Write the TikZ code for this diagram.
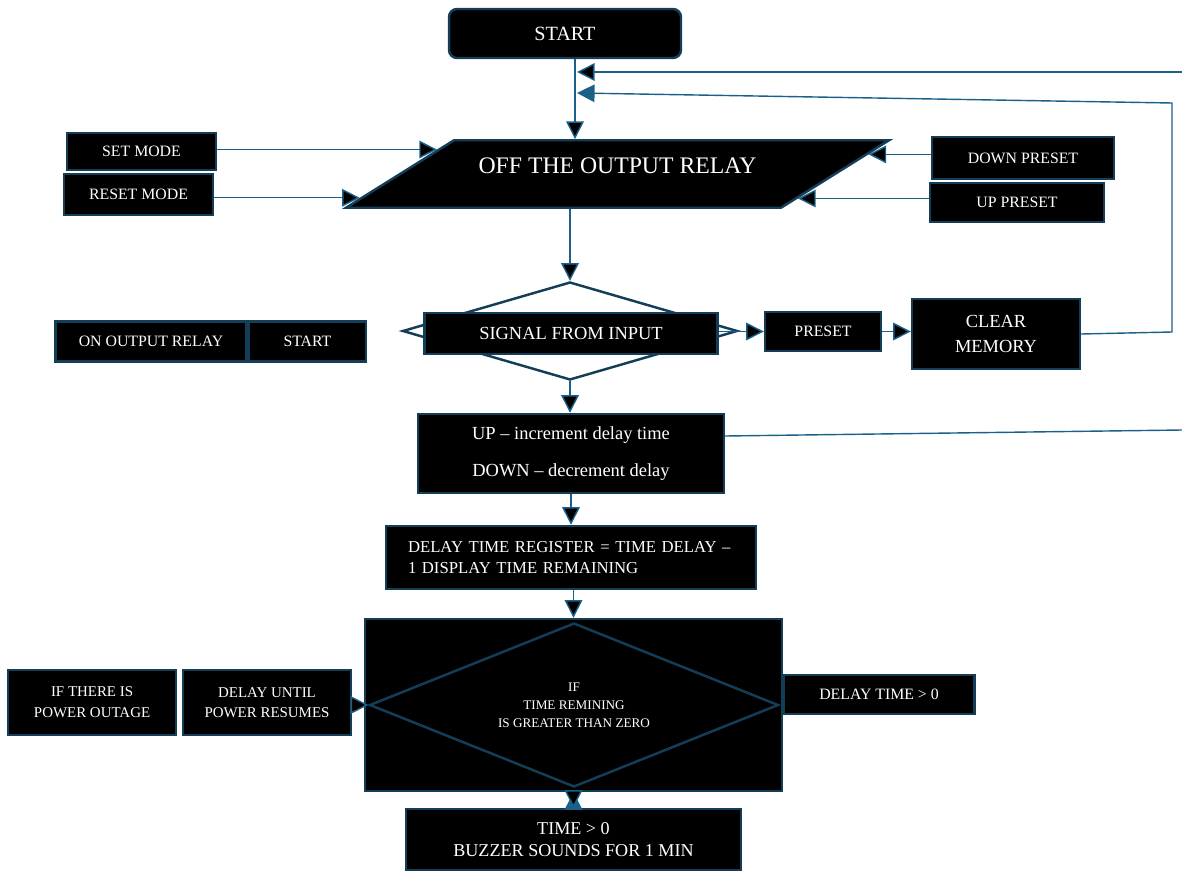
\documentclass[tikz,border=0pt]{standalone}
\usepackage{fontspec}
\setmainfont{Liberation Serif}
\usetikzlibrary{positioning, shapes.geometric, arrows.meta, calc}
\definecolor{edgeblue}{RGB}{20,62,88}
\definecolor{linkblue}{RGB}{26,96,136}
\tikzset{
box/.style={draw=edgeblue, fill=black, text=white, line width=1.4pt, inner sep=0pt, align=center}, % black blocks with a dark blue frame
flow/.style={draw=linkblue, line width=0.8pt, -{Triangle[length=10pt, width=10pt]}}, % connectors with a filled head
link/.style={draw=linkblue, line width=0.8pt}, % plain lines that run off the page
smalltext/.style={font=\fontsize{9}{11}\selectfont}, % most of the side blocks
midtext/.style={font=\fontsize{10.5}{13}\selectfont}, % main column text
}

\begin{document}
\begin{tikzpicture}[x=0.02cm, y=-0.02cm]
                \useasboundingbox (0,0) rectangle (1182,871);
                % main column
                \node[box, rounded corners=0.16cm, minimum width=4.64cm, minimum height=0.98cm, font=\fontsize{11.5}{13}\selectfont] (start) at (565,33.5) {START};
                \node[box, trapezium, trapezium left angle=32, trapezium right angle=148, trapezium stretches body, text height=9pt, text depth=9pt, inner ysep=10.2pt, minimum width=10.86cm, font=\fontsize{13.5}{16}\selectfont] (off) at (617.5,174) {OFF THE OUTPUT RELAY};
                \node[diamond, draw=edgeblue, fill=white, line width=1.4pt, inner sep=0pt, minimum width=6.7cm, minimum height=1.96cm] (sigdia) at (570,331) {};
                \node[box, midtext, minimum width=5.86cm, minimum height=0.82cm] (sig) at (571,333.5) {SIGNAL FROM INPUT};
                \node[box, minimum width=6.12cm, minimum height=1.58cm, font=\fontsize{10.5}{21}\selectfont] (updown) at (571,453.5) {UP – increment delay time\\DOWN – decrement delay};
                \node[box, minimum width=7.4cm, minimum height=1.26cm, text width=6.52cm, inner xsep=0.44cm, align=left, font=\fontsize{9.5}{12}\selectfont] (reg) at (571,557.5) {DELAY TIME REGISTER = TIME DELAY –\\1 DISPLAY TIME REMAINING};
                \node[box, minimum width=8.34cm, minimum height=3.44cm] (bigbox) at (573.5,705) {};
                \node[box, diamond, shape aspect=2.5, minimum width=8.18cm, minimum height=3.28cm, font=\fontsize{7.5}{10.2}\selectfont] (ifdia) at (574,705) {IF\\TIME REMINING\\IS GREATER THAN ZERO};
                \node[box, minimum width=6.7cm, minimum height=1.22cm, font=\fontsize{10.3}{13}\selectfont] (buzz) at (573.5,839.5) {TIME > 0\\BUZZER SOUNDS FOR 1 MIN};
                % side blocks
                \node[box, smalltext, minimum width=2.98cm, minimum height=0.74cm] (setm) at (141.5,151.5) {SET MODE};
                \node[box, smalltext, minimum width=2.98cm, minimum height=0.82cm] (resetm) at (138.5,194.5) {RESET MODE};
                \node[box, smalltext, minimum width=3.64cm, minimum height=0.84cm] (downp) at (1023,158) {DOWN PRESET};
                \node[box, smalltext, minimum width=3.48cm, minimum height=0.78cm] (upp) at (1017,202.5) {UP PRESET};
                \node[box, smalltext, minimum width=3.82cm, minimum height=0.8cm] (onrelay) at (151,341.5) {ON OUTPUT RELAY};
                \node[box, smalltext, minimum width=2.34cm, minimum height=0.8cm, right=0pt of onrelay] (start2) {START};
                \node[box, smalltext, minimum width=2.32cm, minimum height=0.78cm] (preset) at (823,331.5) {PRESET};
                \node[box, midtext, minimum width=3.36cm, minimum height=1.4cm, font=\fontsize{10.5}{14.2}\selectfont] (clear) at (996,334) {CLEAR\\MEMORY};
                \node[box, minimum width=3.36cm, minimum height=1.3cm, font=\fontsize{8.5}{11.4}\selectfont] (until) at (267,702.5) {DELAY UNTIL\\POWER RESUMES};
                \node[box, minimum width=3.36cm, minimum height=1.3cm, font=\fontsize{8.5}{12}\selectfont, left=0.09cm of until] (outage) {IF THERE IS\\POWER OUTAGE};
                \node[box, smalltext, minimum width=3.82cm, minimum height=0.78cm] (dtime) at (879,694.5) {DELAY TIME > 0};
                % ends of the return lines
                \coordinate (rim1) at (1182,72);
                \coordinate (tap1) at (577,72);
                \coordinate (rim2) at (1172,332);
                \coordinate (rim3) at (1172,103);
                \coordinate (tap2) at (577,93);
                \coordinate (rim4) at (1182,430);
                % points on the slanted sides
                \coordinate (sete) at ($(off.bottom left corner)!0.85!(off.top left corner)$);
                \coordinate (resete) at ($(off.bottom left corner)!0.16!(off.top left corner)$);
                \coordinate (downe) at ($(off.bottom right corner)!0.78!(off.top right corner)$);
                \coordinate (upe) at ($(off.bottom right corner)!0.15!(off.top right corner)$);
                \draw[flow]
                    ([xshift=0.2cm]start.south) edge ([xshift=0.2cm]start.south |- off.north)
                    (rim1) edge (tap1)
                    (setm.east |- sete) edge (sete)
                    (resetm.east |- resete) edge (resete)
                    (downp.west |- downe) edge (downe)
                    (upp.west |- upe) edge (upe)
                    (sigdia.north |- off.south) edge (sigdia.north)
                    (sig.east |- preset.west) edge (preset.west)
                    (preset.east) edge (clear.west |- preset.east)
                    (sigdia.south) edge (sigdia.south |- updown.north)
                    (updown.south) edge (reg.north)
                    (bigbox.north |- reg.south) edge (bigbox.north)
                    (until.east |- ifdia.west) edge (ifdia.west)
                    (bigbox.south) edge (bigbox.south |- buzz.north)
                    ;
                \draw[flow] (clear.east) -- (rim2) -- (rim3) -- (tap2);
                \draw[link] ([yshift=0.35cm]updown.east) -- (rim4);
                \end{tikzpicture}
\end{document}
